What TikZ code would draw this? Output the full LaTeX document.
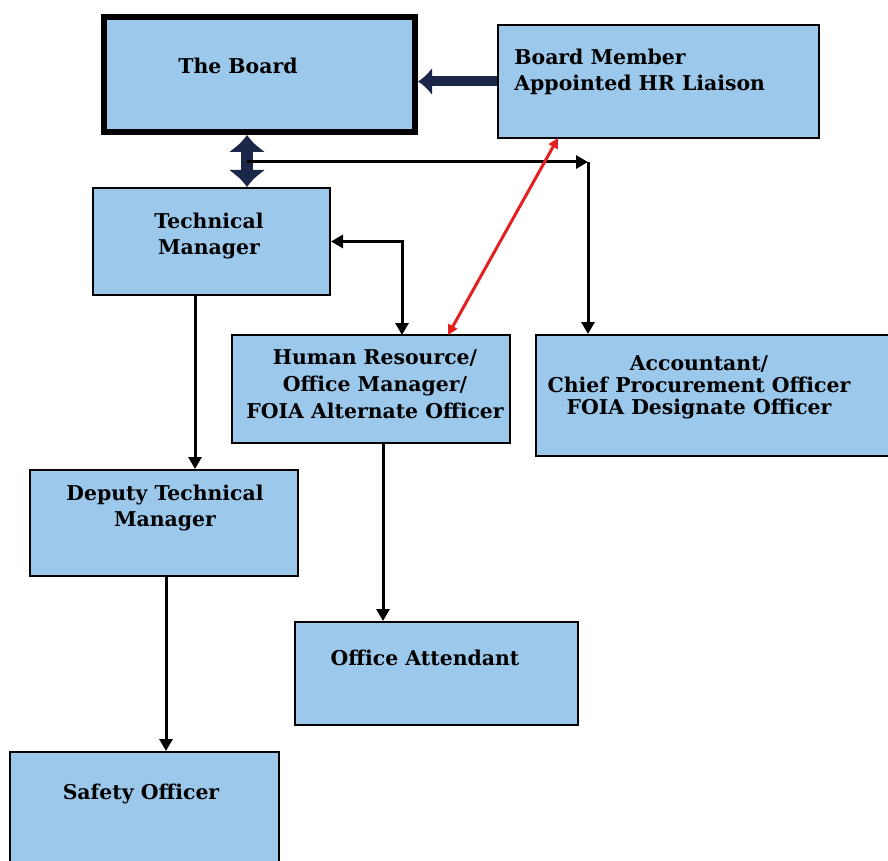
\documentclass[tikz,border=0pt]{standalone}
\usepackage{fontspec}
\setmainfont{DejaVu Serif}
\usetikzlibrary{arrows.meta}

\definecolor{boxblue}{RGB}{155,200,235}
\definecolor{navy}{RGB}{28,38,72}
\definecolor{liaisonred}{RGB}{226,32,32}

\tikzset{
  box/.style={draw=black, line width=1pt, fill=boxblue, inner sep=0pt},
  lbl/.style={font=\bfseries\fontsize{10.2}{13}\selectfont, align=center, inner sep=0pt},
  link/.style={line width=1.5pt, -{Triangle[length=6pt,width=6.5pt]}},
}

\begin{document}
\begin{tikzpicture}[x=0.5pt, y=-0.5pt]
        \useasboundingbox (0,0) rectangle (888,861);
        % boxes
        \node[box, line width=3pt, minimum width=155.5pt, minimum height=57.5pt] (board) at (259.5,74.5) {};
        \node[box, minimum width=160.5pt, minimum height=56.5pt] (member) at (658.5,81.5) {};
        \node[box, minimum width=118.5pt, minimum height=53.5pt] (tm) at (211.5,241.5) {};
        \node[box, minimum width=139pt, minimum height=54pt] (hr) at (371,389) {};
        \node[box, minimum width=179.5pt, minimum height=60.5pt] (acc) at (715.5,395.5) {};
        \node[box, minimum width=134pt, minimum height=53pt] (deputy) at (164,523) {};
        \node[box, minimum width=141.5pt, minimum height=51.5pt] (oa) at (436.5,673.5) {};
        \node[box, minimum width=134.5pt, minimum height=59pt] (safety) at (144.5,811) {};
        % texts
        \node[lbl] (boardtxt) at (238,66) {The Board};
        \node[lbl, anchor=west, align=left] (membertxt) at (514,72) {Board Member\\Appointed HR Liaison};
        \node[lbl] (tmtxt) at (209,236) {Technical\\Manager};
        \node[lbl, font=\bfseries\fontsize{10.2}{13.5}\selectfont] (hrtxt) at (375,384) {Human Resource/\\Office Manager/\\FOIA Alternate Officer};
        \node[lbl, font=\bfseries\fontsize{10.2}{11}\selectfont] (acctxt) at (699,387) {Accountant/\\Chief Procurement Officer\\FOIA Designate Officer};
        \node[lbl] (deputytxt) at (165,508) {Deputy Technical\\Manager};
        \node[lbl] (oatxt) at (425,658) {Office Attendant};
        \node[lbl] (safetytxt) at (141,794) {Safety Officer};
        % connectors
        \coordinate (bus) at (247,162);
        \coordinate (acccorner) at (588,162);
        \coordinate (hrtop) at (402,335);
        \coordinate (redlow) at (448,335);
        \coordinate (redhigh) at (558,138);
        \draw[navy, line width=5pt, -{Latex[length=7pt,width=14pt]}] (member.west) -- (board.east |- member.west);
        \draw[navy, line width=6pt, {Latex[length=8.5pt,width=19pt]}-{Latex[length=8.5pt,width=19pt]}] (board.south -| bus) -- (tm.north -| bus);
        \draw[link] (bus) -- (acccorner);
        \draw[link] (acccorner) -- (acccorner |- acc.north);
        \draw[link, {Triangle[length=6pt,width=6.5pt]}-{Triangle[length=6pt,width=6.5pt]}] (tm.east) -| (hrtop);
        \draw[liaisonred, line width=1.5pt, {Triangle[length=5pt,width=5pt]}-{Triangle[length=5pt,width=5pt]}] (redlow) -- (redhigh);
        \draw[link] (tm.south -| 195,0) -- (deputy.north -| 195,0);
        \draw[link] (hr.south -| 383,0) -- (oa.north -| 383,0);
        \draw[link] (deputy.south -| 166,0) -- (safety.north -| 166,0);
\end{tikzpicture}
\end{document}
